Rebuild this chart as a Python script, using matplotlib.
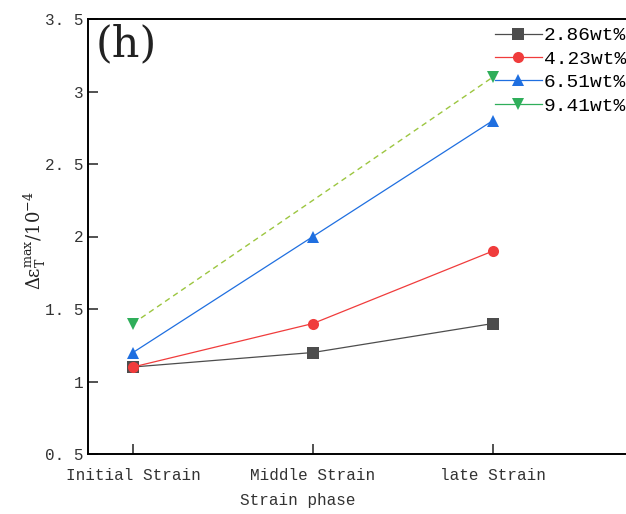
import numpy as np
import matplotlib
matplotlib.use("Agg")
import matplotlib.pyplot as plt

plt.rcParams["font.family"] = ["Liberation Mono", "DejaVu Sans"]
plt.rcParams["mathtext.fontset"] = "dejavuserif"

# data
phases = ["Initial Strain", "Middle Strain", "late Strain"]
labels = ["2.86wt%", "4.23wt%", "6.51wt%", "9.41wt%"]
s286 = [1.1, 1.2, 1.4]
s423 = [1.1, 1.4, 1.9]
s651 = [1.2, 2.0, 2.8]
s941 = [1.4, np.nan, 3.1]
y_ticks = [0.5, 1, 1.5, 2, 2.5, 3, 3.5]

colors = ["#4d4d4d", "#f03c3c", "#1f6fe0", "#2fae5a"]
markers = ["s", "o", "^", "v"]

x = np.arange(len(phases))

fig = plt.figure(figsize=(6.26, 5.14), dpi=100)
ax = fig.add_axes([88 / 626, 60 / 514, 540 / 626, 435 / 514])

series = [s286, s423, s651, s941]
handles = []
for vals, c, m, lab in zip(series, colors, markers, labels):
    h, = ax.plot(x, vals, color=c, marker=m, markersize=8, linewidth=0.9,
                 markeredgewidth=0, label=lab, zorder=3)
    handles.append(h)

# dashed connection for the 9.41wt% series (no middle point)
mask = ~np.isnan(s941)
ax.plot(x[mask], np.array(s941)[mask], color="#9cc640", linestyle=(0, (4, 3)),
        linewidth=1.0, zorder=2)

ax.set_xlim(-0.25, 2.75)
ax.set_ylim(0.5, 3.5)
ax.set_xticks(x)
ax.set_xticklabels(phases)
ax.set_yticks(y_ticks)
ax.set_yticklabels([("%g" % v).replace(".", ". ") for v in y_ticks])
ax.tick_params(direction="in", length=7, width=1.2, labelsize=11.5,
               colors="#333333", labelcolor="#333333")
ax.tick_params(axis="x", pad=10)
for side in ["left", "bottom", "top"]:
    ax.spines[side].set_linewidth(1.4)
ax.spines["right"].set_visible(False)

fig.text(298 / 626, 1 - 500 / 514, "Strain phase", fontsize=11.5,
         color="#333333", ha="center", va="center")
ax.set_ylabel(r"$\Delta\mathrm{\varepsilon}_{\mathrm{T}}^{\mathrm{max}}/10^{-4}$",
              fontsize=13, color="#222222")
ax.yaxis.set_label_coords(-0.075, 0.49)

ax.text(0.015, 0.99, "(h)", transform=ax.transAxes, fontsize=31,
        family="DejaVu Serif", va="top", ha="left", color="#222222")

ax.legend(handles=handles, loc="upper right", bbox_to_anchor=(1.0, 0.948),
          bbox_transform=fig.transFigure, frameon=False, fontsize=14,
          handlelength=2.4, handletextpad=0.1, labelspacing=0.3,
          borderaxespad=0, borderpad=0)

fig.savefig("out.png", dpi=100)
